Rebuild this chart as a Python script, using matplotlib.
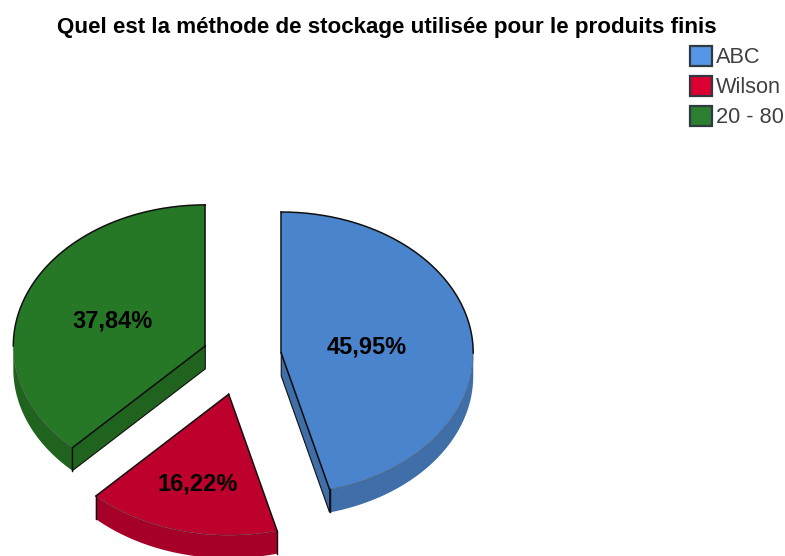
import numpy as np
import matplotlib
matplotlib.use("Agg")
import matplotlib.pyplot as plt
from matplotlib.patches import Patch, Polygon

plt.rcParams['font.family'] = ['Liberation Sans', 'DejaVu Sans']

title = "Quel est la méthode de stockage utilisée pour le produits finis"
categories = ["ABC", "Wilson", "20 - 80"]
values = [45.95, 16.22, 37.84]
pct_labels = ["45,95%", "16,22%", "37,84%"]

top_colors = ["#4A84CC", "#BE002D", "#277826"]
wall_colors = ["#3F6EA8", "#A60028", "#1F631F"]
legend_colors = ["#5596E6", "#DC0032", "#2A8030"]
explode = [0.206, 0.275, 0.206]
pct_dist = [0.45, 0.64, 0.52]

W, H = 785, 556
RX, RY = 192.0, 141.0      # pixels per radius
CX, CY = 242.0, 356.7      # pixel position of pie centre
depth = 23.0 / RY

fig = plt.figure(figsize=(W / 100, H / 100), dpi=100)
ax = fig.add_axes([0, 0, 1, 1])
wedges, _ = ax.pie(values, explode=explode, colors=top_colors, startangle=90,
                   counterclock=False, wedgeprops=dict(edgecolor='none', linewidth=0))
ax.set_aspect('auto')
ax.set_xlim(-CX / RX, (W - CX) / RX)
ax.set_ylim(-(H - CY) / RY, CY / RY)
ax.axis('off')


def arc(cx, cy, a0, a1):
    t = np.radians(np.linspace(a0, a1, max(int(abs(a1 - a0)) * 2, 2)))
    return cx + np.cos(t), cy + np.sin(t)


for w, wall, dist, lab in zip(wedges, wall_colors, pct_dist, pct_labels):
    cx, cy = w.center
    a0, a1 = w.theta1, w.theta2          # ccw from a0 to a1
    z = w.get_zorder()
    # outer wall: portion of arc in lower half (180..360 deg)
    for k in (0, 360, -360):
        lo, hi = max(a0 + k, 180), min(a1 + k, 360)
        if hi > lo:
            x, y = arc(cx, cy, lo, hi)
            xs = np.r_[x, x[::-1]]
            ys = np.r_[y, y[::-1] - depth]
            ax.add_patch(Polygon(np.c_[xs, ys], closed=True, fc=wall, ec='none', zorder=z - 1))
            ax.plot(x, y, color='#33333366', lw=0.7, zorder=z + 1)
            for ang, xe, ye in ((lo, x[0], y[0]), (hi, x[-1], y[-1])):
                if ang not in (180, 360):
                    ax.plot([xe, xe], [ye, ye - depth], color='#101010', lw=1.0, zorder=z + 2)
    # flat cut faces visible from the front
    for ang, normal in ((a0, a0 - 90), (a1, a1 + 90)):
        if np.sin(np.radians(normal)) < -1e-6:
            ex_, ey_ = cx + np.cos(np.radians(ang)), cy + np.sin(np.radians(ang))
            ax.add_patch(Polygon([(cx, cy), (ex_, ey_), (ex_, ey_ - depth), (cx, cy - depth)],
                                 closed=True, fc=wall, ec='#101010', lw=0.8, zorder=z - 0.5))
    # outline of the top face
    for ang in (a0, a1):
        t = np.radians(ang)
        ax.plot([cx, cx + np.cos(t)], [cy, cy + np.sin(t)], color='#101010', lw=1.1, zorder=z + 2)
    for k in (0, 360, -360):
        lo, hi = max(a0 + k, 0), min(a1 + k, 180)
        if hi > lo:
            x, y = arc(cx, cy, lo, hi)
            ax.plot(x, y, color='#101010', lw=1.1, zorder=z + 2)
    # percent label
    mid = np.radians((a0 + a1) / 2)
    ax.text(cx + dist * np.cos(mid), cy + dist * np.sin(mid) - 2 / RY, lab, ha='center', va='center',
            fontsize=17, fontweight='bold', color='black', zorder=10)

fig.text(387 / W, 1 - 27.5 / H, title, ha='center', va='center', fontsize=16.1,
         fontweight='bold', color='black')

handles = [Patch(fc=c, ec='#303840', lw=1.6) for c in legend_colors]
fig.legend(handles, categories, loc='upper left', bbox_to_anchor=(690 / W, 1 - 46 / H),
           bbox_transform=fig.transFigure, frameon=False, fontsize=15.7, labelcolor='#404040',
           handlelength=1.0, handleheight=1.0, handletextpad=0.2, labelspacing=0.36,
           borderpad=0, borderaxespad=0)

fig.savefig("out.png", dpi=100)
